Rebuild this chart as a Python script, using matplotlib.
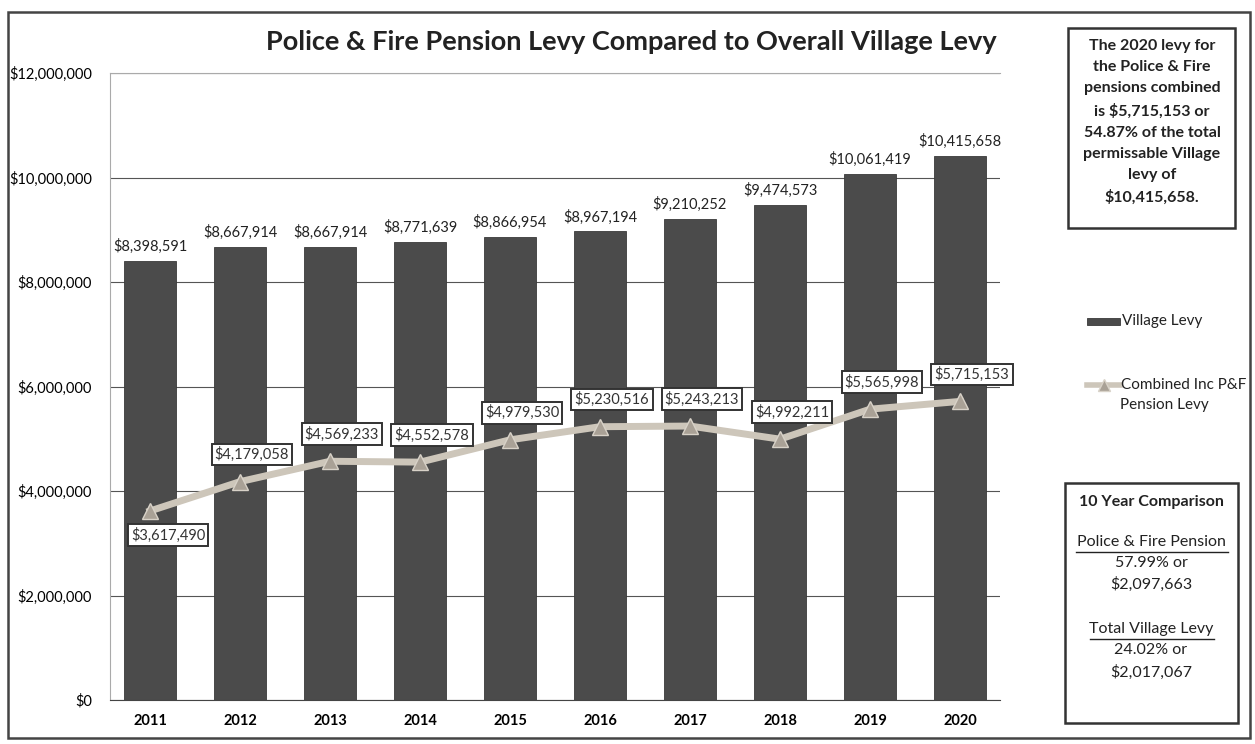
import matplotlib.pyplot as plt
from matplotlib.patches import Rectangle
from matplotlib.lines import Line2D
from matplotlib.ticker import FuncFormatter

plt.rcParams['font.family'] = ['Lato', 'DejaVu Sans']

years = ['2011', '2012', '2013', '2014', '2015', '2016', '2017', '2018', '2019', '2020']
village_levy = [8398591, 8667914, 8667914, 8771639, 8866954, 8967194, 9210252, 9474573, 10061419, 10415658]
pension_levy = [3617490, 4179058, 4569233, 4552578, 4979530, 5230516, 5243213, 4992211, 5565998, 5715153]

title = "Police & Fire Pension Levy Compared to Overall Village Levy"
note_top = ("The 2020 levy for\nthe Police & Fire\npensions combined\nis $5,715,153 or\n"
            "54.87% of the total\npermissable Village\nlevy of\n$10,415,658.")

BAR = '#4b4b4b'
LINE = '#cdc6ba'
MARK = '#a9a196'

fig = plt.figure(figsize=(12.55, 7.44), dpi=100)
ax = fig.add_axes([110 / 1255, 44 / 744, 890 / 1255, 627 / 744])

x = list(range(len(years)))
ax.bar(x, village_levy, width=0.58, color=BAR, edgecolor='#3a3a3a', linewidth=0.6, zorder=2)
ax.plot(x, pension_levy, color=LINE, linewidth=5, zorder=3)
ax.plot(x, pension_levy, linestyle='none', marker='^', markersize=12,
        color=MARK, markeredgecolor='#d8d2c8', zorder=4)

for xi, v in zip(x, village_levy):
    ax.annotate(f"${v:,}", (xi, v), xytext=(0, 7), textcoords='offset pixels',
                ha='center', va='bottom', fontsize=10.5, color='#222222')

for xi, v in zip(x, pension_levy):
    dx, dy = (18, -24) if xi == 0 else (12, 27)
    ax.annotate(f"${v:,}", (xi, v), xytext=(dx, dy), textcoords='offset pixels',
                ha='center', va='center', fontsize=10.5, color='#333333', zorder=6,
                bbox=dict(boxstyle='square,pad=0.22', fc='white', ec='#333333', lw=1.4))

ax.set_xlim(-0.444, 9.444)
ax.set_ylim(0, 12000000)
ax.set_yticks(range(0, 12000001, 2000000))
ax.yaxis.set_major_formatter(FuncFormatter(lambda v, p: f"${int(v):,}"))
ax.set_xticks(x)
ax.set_xticklabels(years, fontweight='bold')
ax.tick_params(axis='y', length=0, pad=13, labelsize=10.5)
ax.tick_params(axis='x', length=0, pad=10, labelsize=10.5)
ax.grid(axis='y', color='#555555', linewidth=0.8, zorder=0)
ax.set_axisbelow(True)
ax.spines['right'].set_visible(False)
for s in ['left', 'top']:
    ax.spines[s].set_color('#aaaaaa')
ax.spines['bottom'].set_color('#444444')

fig.text(631 / 1255, 1 - 42 / 744, title, ha='center', va='center',
         fontsize=19.5, fontweight='bold', color='#222222')

# outer frame
fig.patches.append(Rectangle((8 / 1255, 6 / 744), 1242 / 1255, 726 / 744,
                             transform=fig.transFigure, fill=False,
                             ec='#444444', lw=1.8))

# note boxes
fig.patches.append(Rectangle((1068 / 1255, 1 - 228 / 744), 167 / 1255, 200 / 744,
                             transform=fig.transFigure, fill=False,
                             ec='#333333', lw=1.8))
fig.text(1152 / 1255, 1 - 122 / 744, note_top, ha='center', va='center',
         fontsize=11.5, fontweight='bold', linespacing=1.65, color='#222222')

fig.patches.append(Rectangle((1065 / 1255, 1 - 723 / 744), 173 / 1255, 240 / 744,
                             transform=fig.transFigure, fill=False,
                             ec='#333333', lw=1.8))
cx = 1151 / 1255
fs = 11.5
fig.text(cx, 1 - 502 / 744, "10 Year Comparison", ha='center', va='center',
         fontsize=fs, fontweight='bold', color='#222222')
fig.text(cx, 1 - 542 / 744, "Police & Fire Pension", ha='center', va='center',
         fontsize=fs, color='#222222')
fig.text(cx, 1 - 563 / 744, "57.99% or", ha='center', va='center', fontsize=fs, color='#222222')
fig.text(cx, 1 - 584 / 744, "$2,097,663", ha='center', va='center', fontsize=fs, color='#222222')
fig.text(cx, 1 - 629 / 744, "Total Village Levy", ha='center', va='center',
         fontsize=fs, color='#222222')
fig.text(cx, 1 - 650 / 744, "24.02% or", ha='center', va='center', fontsize=fs, color='#222222')
fig.text(cx, 1 - 672 / 744, "$2,017,067", ha='center', va='center', fontsize=fs, color='#222222')
fig.add_artist(Line2D([1076 / 1255, 1228 / 1255], [1 - 552 / 744, 1 - 552 / 744],
                      transform=fig.transFigure, color='#222222', lw=1))
fig.add_artist(Line2D([1090 / 1255, 1214 / 1255], [1 - 639 / 744, 1 - 639 / 744],
                      transform=fig.transFigure, color='#222222', lw=1))

# legend drawn by hand to match spacing
fig.patches.append(Rectangle((1087 / 1255, 1 - 325 / 744), 33 / 1255, 7 / 744,
                             transform=fig.transFigure, fc=BAR, ec='#3a3a3a', lw=0.6))
fig.text(1122 / 1255, 1 - 321 / 744, "Village Levy", ha='left', va='center',
         fontsize=11, color='#222222')
fig.add_artist(Line2D([1087 / 1255, 1120 / 1255], [1 - 385 / 744, 1 - 385 / 744],
                      transform=fig.transFigure, color=LINE, lw=4))
fig.add_artist(Line2D([1103.5 / 1255], [1 - 385 / 744], transform=fig.transFigure,
                      linestyle='none', marker='^', markersize=9,
                      markerfacecolor=MARK, markeredgecolor='#d8d2c8'))
fig.text(1121 / 1255, 1 - 385 / 744, "Combined Inc P&F", ha='left', va='center',
         fontsize=11, color='#222222')
fig.text(1164 / 1255, 1 - 405 / 744, "Pension Levy", ha='center', va='center',
         fontsize=11, color='#222222')

fig.savefig('out.png', dpi=100)
